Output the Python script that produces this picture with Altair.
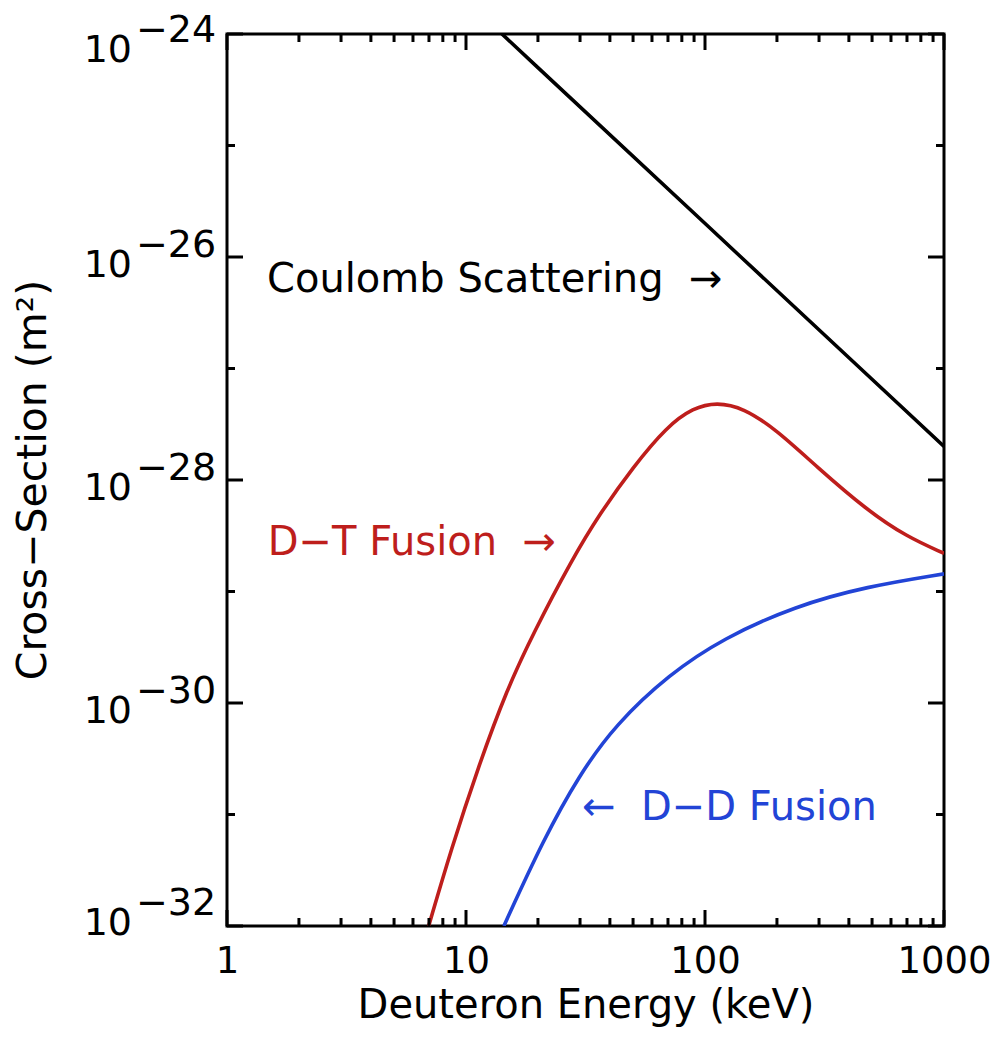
import altair as alt
import pandas as pd

# ---- data ----
coulomb_E = [14.14, 100, 1000]
coulomb_sigma = [1e-24, 2e-26, 2e-28]

dt_E = [6.98, 8.65, 11.26, 14.8, 19.12, 27.69, 36.37, 50.12, 69.15, 89.34, 111.9, 144.6, 199.5, 293.3, 475.1, 698, 1000]
dt_sigma = [1.0e-32, 4.81e-32, 2.68e-31, 1.31e-30, 4.22e-30, 1.92e-29, 5.02e-29, 1.315e-28, 3.01e-28,
            4.45e-28, 4.98e-28, 4.45e-28, 2.81e-28, 1.315e-28, 5.38e-29, 3.10e-29, 2.20e-29]

dd_E = [14.4, 21.1, 29.8, 42.2, 70.8, 119, 238, 475, 1000]
dd_sigma = [1.0e-32, 5.98e-32, 2.27e-31, 6.4e-31, 1.81e-30, 3.8e-30, 7.4e-30, 1.11e-29, 1.44e-29]

series_names = ["Coulomb", "DT", "DD"]
series_colors = ["#000000", "#BE1E1C", "#2244D6"]

label_texts = ["Coulomb Scattering \u00a0\u2192", "D\u2212T Fusion \u00a0\u2192", "\u2190\u00a0 D\u2212D Fusion"]
label_E = [1.47, 1.48, 30.6]
label_sigma = [4.9e-27, 2.12e-29, 8.9e-32]

x_tick_values = [1, 2, 3, 4, 5, 6, 7, 8, 9, 10, 20, 30, 40, 50, 60, 70, 80, 90,
                 100, 200, 300, 400, 500, 600, 700, 800, 900, 1000]
x_label_values = [1, 10, 100, 1000]
y_exponents = [-24, -25, -26, -27, -28, -29, -30, -31, -32]
y_label_exponents = [-24, -26, -28, -30, -32]

x_title = "Deuteron Energy (keV)"
y_title = "Cross\u2212Section (m\u00b2)"

# ---- layout ----
W, H = 717, 892
FONT = "DejaVu Sans"

lines_df = pd.concat([
    pd.DataFrame({"series": "Coulomb", "E": coulomb_E, "sigma": coulomb_sigma, "order": range(len(coulomb_E))}),
    pd.DataFrame({"series": "DT", "E": dt_E, "sigma": dt_sigma, "order": range(len(dt_E))}),
    pd.DataFrame({"series": "DD", "E": dd_E, "sigma": dd_sigma, "order": range(len(dd_E))}),
], ignore_index=True)

labels_df = pd.DataFrame({"series": series_names, "E": label_E, "sigma": label_sigma, "text": label_texts})

xt_df = pd.DataFrame({"E": x_tick_values, "major": [v in x_label_values for v in x_tick_values]})
yt_df = pd.DataFrame({"sigma": [10.0 ** e for e in y_exponents], "major": [e % 2 == 0 for e in y_exponents]})
ylab_df = pd.DataFrame({
    "exp": y_label_exponents,
    "sigma": [10.0 ** e for e in y_label_exponents],
    "base": ["10"] * len(y_label_exponents),
    "sup": ["\u2212" + str(-e) for e in y_label_exponents],
})

xs = alt.Scale(type="log", domain=[1, 1000], nice=False)
ys = alt.Scale(type="log", domain=[1e-32, 1e-24], nice=False)
cs = alt.Scale(domain=series_names, range=series_colors)

xaxis = alt.Axis(
    values=x_label_values, format="d", ticks=False, tickSize=0, domain=False, grid=False,
    labelFont=FONT, labelFontSize=37, labelColor="black", labelBaseline="alphabetic",
    labelPadding=46, labelFlush=False, labelOverlap=False,
    title=x_title, titleFont=FONT, titleFontSize=40, titleFontWeight="normal",
    titleColor="black", titleBaseline="alphabetic", titleY=91,
)

X = alt.X("E:Q", scale=xs, axis=xaxis)
Y = alt.Y("sigma:Q", scale=ys, axis=None)

lines = alt.Chart(lines_df).mark_line(strokeWidth=3.6, interpolate="basis", clip=True).encode(
    x=X, y=Y,
    color=alt.Color("series:N", scale=cs, legend=None),
    detail="series:N",
    order="order:Q",
)

labels = alt.Chart(labels_df).mark_text(
    align="left", baseline="alphabetic", font=FONT, fontSize=40
).encode(
    x=X, y=Y, text="text:N",
    color=alt.Color("series:N", scale=cs, legend=None),
)


def xticks(major, top):
    length = 16 if major else 8
    y0 = 0 if top else H
    y1 = length if top else H - length
    return alt.Chart(xt_df).transform_filter(
        alt.datum.major if major else ~alt.datum.major
    ).mark_rule(color="black", strokeWidth=3).encode(
        x=X, y=alt.value(y0), y2=alt.value(y1)
    )


def yticks(major, right):
    length = 16 if major else 8
    x0 = W if right else 0
    x1 = W - length if right else length
    return alt.Chart(yt_df).transform_filter(
        alt.datum.major if major else ~alt.datum.major
    ).mark_rule(color="black", strokeWidth=3).encode(
        y=Y, x=alt.value(x0), x2=alt.value(x1)
    )


def ylabels(filter_expr, shift):
    base = alt.Chart(ylab_df).transform_filter(filter_expr).mark_text(
        align="right", baseline="alphabetic", font=FONT, fontSize=38, dy=20 + shift, color="black"
    ).encode(y=Y, x=alt.value(-95), text="base:N")
    sup = alt.Chart(ylab_df).transform_filter(filter_expr).mark_text(
        align="left", baseline="alphabetic", font=FONT, fontSize=38, dy=shift, color="black"
    ).encode(y=Y, x=alt.value(-91), text="sup:N")
    return [base, sup]


ylab_layers = (
    ylabels("datum.exp == -24", 8)
    + ylabels("datum.exp < -24 && datum.exp > -32", 0)
    + ylabels("datum.exp == -32", -11)
)

ytitle = alt.Chart(pd.DataFrame({"t": [y_title]})).mark_text(
    angle=270, align="center", baseline="alphabetic", font=FONT, fontSize=41, color="black"
).encode(x=alt.value(-181), y=alt.value(H / 2), text="t:N")

chart = alt.layer(
    lines, labels,
    xticks(True, False), xticks(False, False), xticks(True, True), xticks(False, True),
    yticks(True, False), yticks(False, False), yticks(True, True), yticks(False, True),
    *ylab_layers, ytitle,
).properties(
    width=W, height=H,
    autosize=alt.AutoSizeParams(type="none"),
    padding={"left": 219, "top": 26, "right": 48, "bottom": 102},
    background="white",
).configure_view(stroke="black", strokeWidth=3)

chart.save("out.html", embed_options={"renderer": "svg", "actions": False})
